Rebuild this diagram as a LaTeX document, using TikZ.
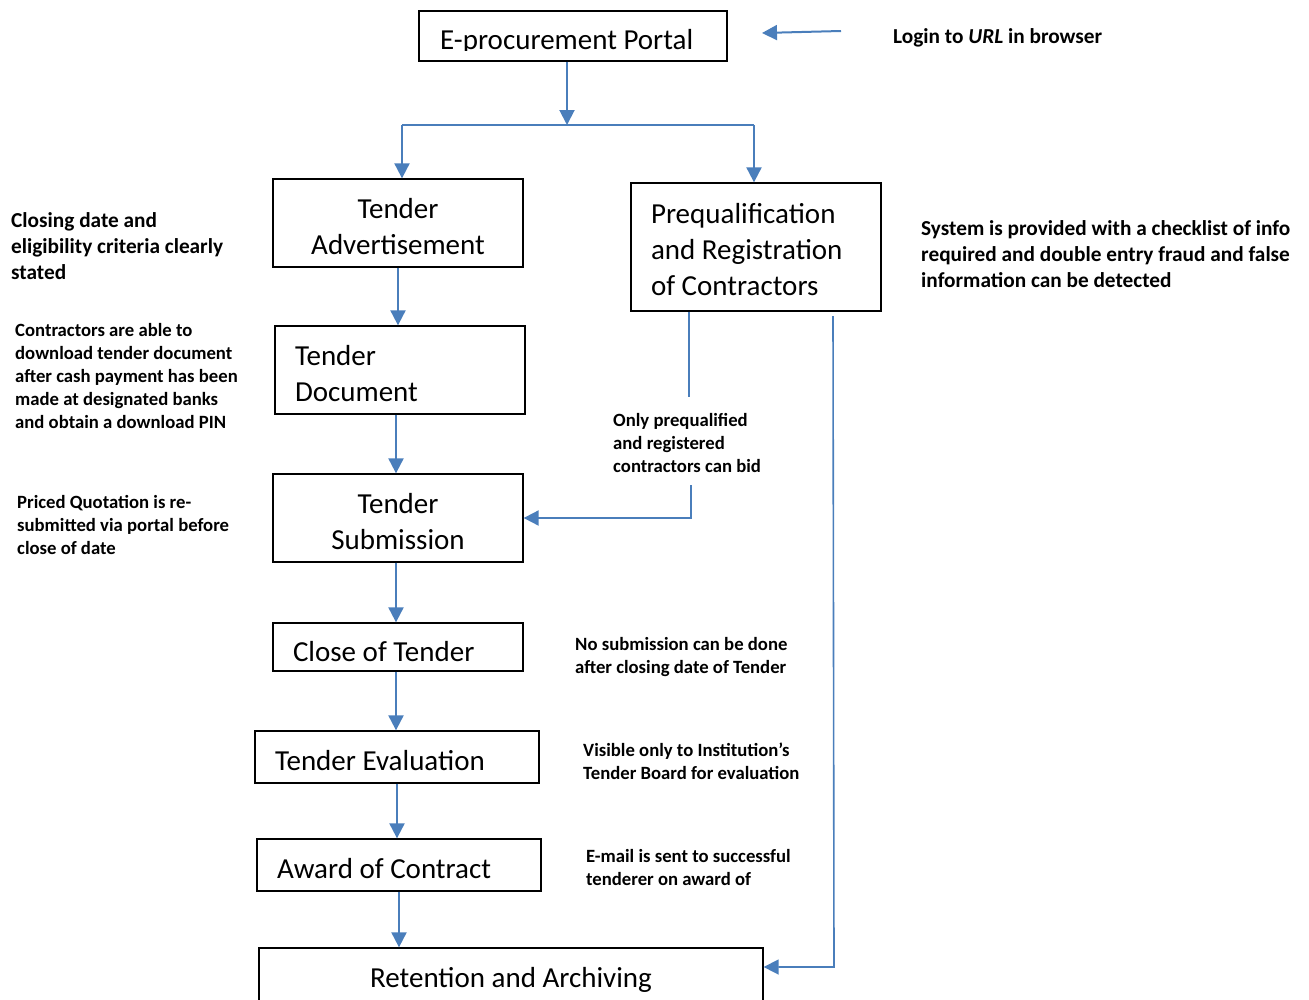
\documentclass[tikz,border=0pt]{standalone}
\usepackage{fontspec}
\setmainfont{Carlito}
\usetikzlibrary{arrows.meta}
\definecolor{lineblue}{RGB}{74,126,187}
\newcommand{\topstrut}[1]{\rule{0pt}{#1pt}}
\begin{document}
\begin{tikzpicture}[x=1pt,y=-1pt,
  box/.style={draw=black,line width=1.3pt,inner sep=0pt,font=\fontsize{29}{36}\selectfont},
  lbox/.style={box,align=flush left,inner xsep=20pt},
  cbox/.style={box,align=center},
  anno/.style={font=\bfseries\fontsize{18.7}{23}\selectfont,align=flush left,inner sep=0pt,anchor=north west},
  annoL/.style={font=\bfseries\fontsize{21.3}{26.3}\selectfont,align=flush left,inner sep=0pt,anchor=north west},
  arr/.style={draw=lineblue,line width=2pt,-{Triangle[width=15pt,length=15pt]}},
  conn/.style={draw=lineblue,line width=2pt},
  thinconn/.style={draw=lineblue,line width=1.4pt},
  thinarr/.style={draw=lineblue,line width=1.6pt,-{Triangle[width=15pt,length=15pt]}}
]
\useasboundingbox (0,0) rectangle (1309,999);

% boxes
\node[box,minimum width=308pt,minimum height=50pt] (portal) at (573,36) {};
\begin{scope}
  \clip (419,11) rectangle (727,50);
  \node[font=\fontsize{29}{36}\selectfont,inner sep=0pt,anchor=base west] (portaltext) at (440,49) {E-procurement Portal};
\end{scope}

\node[cbox,minimum width=250pt,minimum height=88pt] (ta) at (398,223) {\topstrut{27}Tender\\Advertisement};
\node[lbox,minimum width=250pt,minimum height=88pt,text width=210pt] (td) at (400,370) {\topstrut{27}Tender\\Document};
\node[cbox,minimum width=250pt,minimum height=88pt] (ts) at (398,518) {\topstrut{28}Tender\\Submission};
\node[lbox,minimum width=250pt,minimum height=48pt,text width=210pt] (cot) at (398,647) {\topstrut{30}Close of Tender};
\node[lbox,minimum width=284pt,minimum height=52pt,text width=244pt] (te) at (397,757) {\topstrut{28}Tender Evaluation};
\node[lbox,minimum width=284pt,minimum height=52pt,text width=244pt] (aoc) at (399,865) {\topstrut{27}Award of Contract};
\node[cbox,minimum width=504pt,minimum height=58pt] (ra) at (511,977) {\topstrut{25}Retention and Archiving};
\node[lbox,minimum width=250pt,minimum height=128pt,text width=210pt] (pq) at (756,247) {\topstrut{25}Prequalification\\and Registration\\of Contractors};

% annotations
\node[annoL] (login) at (893,28) {Login to \textit{URL} in browser};
\node[annoL] (closing) at (11,212) {Closing date and\\eligibility criteria clearly\\stated};
\node[annoL] (system) at (921,220) {System is provided with a checklist of info\\required and double entry fraud and false\\information can be detected};
\node[anno] (contr) at (15,323) {Contractors are able to\\download tender document\\after cash payment has been\\made at designated banks\\and obtain a download PIN};
\node[anno] (priced) at (17,495) {Priced Quotation is re-\\submitted via portal before\\close of date};
\node[anno] (only) at (613,413) {Only prequalified\\and registered\\contractors can bid};
\node[anno] (nosub) at (575,637) {No submission can be done\\after closing date of Tender};
\node[anno] (visible) at (583,743) {Visible only to Institution’s\\Tender Board for evaluation};
\node[anno] (email) at (586,849) {E-mail is sent to successful\\tenderer on award of};

% connectors
\coordinate (j0) at (567,125);
\coordinate (jl) at (402,125);
\coordinate (jr) at (754,125);
\draw[arr] (portal.south -| j0) -- (j0);
\draw[conn] (jl) -- (jr);
\draw[arr] (jl) -- (ta.north -| jl);
\draw[arr] (jr) -- (pq.north -| jr);

\coordinate (lgs) at (841,31);
\coordinate (lge) at (762,33);
\draw[arr] (lgs) -- (lge);

\draw[arr] (ta.south) -- (td.north -| ta.south);
\coordinate (tdx) at (396,0);
\draw[arr] (td.south -| tdx) -- (ts.north -| tdx);
\draw[arr] (ts.south -| tdx) -- (cot.north -| tdx);
\draw[arr] (cot.south -| tdx) -- (te.north -| tdx);
\draw[arr] (te.south) -- (aoc.north -| te.south);
\draw[arr] (aoc.south) -- (ra.north -| aoc.south);

\coordinate (pq1) at (689,397);
\draw[thinconn] (pq.south -| pq1) -- (pq1);
\coordinate (pq2) at (691,485);
\draw[arr] (pq2) |- (ts.east);

\coordinate (rl) at (833,316);
\coordinate (rc) at (834,967);
\draw[thinarr] (rl) -- (rc) -- (rc -| ra.east);
\end{tikzpicture}
\end{document}
